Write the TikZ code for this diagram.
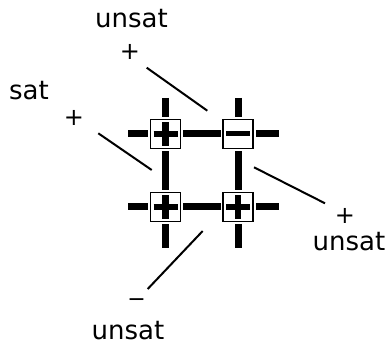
\documentclass[tikz,border=0pt]{standalone}
\usepackage{fontspec}
\setmainfont{DejaVu Sans}
\begin{document}
\begin{tikzpicture}[x=1pt,y=-1pt,
    bar/.style={line width=7pt},
    barretta/.style={line width=6.5pt},
    cella/.style={draw, line width=1.3pt, fill=white, minimum width=30pt, minimum height=29pt,
        inner sep=0pt, preaction={draw=white, fill=white, line width=5pt}},
    lbl/.style={font=\fontsize{26}{30}\selectfont, inner sep=0pt, anchor=base},
    segno/.style={font=\fontsize{24}{28}\selectfont, inner sep=0pt},
    link/.style={line width=2pt}]
        % Dimensioni
        \def\xa{165.5}  % colonna sinistra
        \def\xb{238}    % colonna destra
        \def\ya{134}    % riga in alto
        \def\yb{207}    % riga in basso
        \def\m{12}      % mezza barra dei segni

        \useasboundingbox (0,0) rectangle (388,344);

        % Estremi delle linee
        \coordinate (v1s) at (\xa,98);  \coordinate (v1e) at (\xa,248);
        \coordinate (v2s) at (\xb,98);  \coordinate (v2e) at (\xb,248);
        \coordinate (h1s) at (128,\ya); \coordinate (h1e) at (279,\ya);
        \coordinate (h2s) at (128,\yb); \coordinate (h2e) at (279,\yb);

        % Griglia
        \draw[bar] (v1s) -- (v1e);
        \draw[bar] (v2s) -- (v2e);
        \draw[bar] (h1s) -- (h1e);
        \draw[bar] (h2s) -- (h2e);

        % Celle
        \node[cella] (q11) at (\xa,\ya) {};
        \node[cella] (q12) at (\xb,\ya) {};
        \node[cella] (q21) at (\xa,\yb) {};
        \node[cella] (q22) at (\xb,\yb) {};

        % Segni nelle celle
        \foreach \q in {q11,q21,q22} {
            \draw[barretta] ([xshift=-\m pt]\q.center) -- ([xshift=\m pt]\q.center);
            \draw[barretta] ([yshift=-\m pt]\q.center) -- ([yshift=\m pt]\q.center);
        }
        \draw[line width=5pt] ([xshift=-\m pt]q12.center) -- ([xshift=\m pt]q12.center);

        % Etichette
        \node[lbl] (t1) at (131.5,28) {unsat};
        \node[segno] (s1) at (130,51.5) {+};
        \node[lbl] (t2) at (29,100) {sat};
        \node[segno] (s2) at (74,117.5) {+};
        \node[segno] (s3) at (345,216) {+};
        \node[lbl] (t3) at (349,250.5) {unsat};
        \node[segno, font=\fontsize{22}{26}\selectfont] (s4) at (136.7,303) {−};
        \node[lbl] (t4) at (128,340) {unsat};

        % Linee di collegamento
        \coordinate (a1) at (146.7,67.7);  \coordinate (a2) at (207.3,110.7);
        \coordinate (b1) at (98.3,133.3);  \coordinate (b2) at (151.7,170);
        \coordinate (c1) at (254,167.3);   \coordinate (c2) at (325,203.3);
        \coordinate (d1) at (147.7,289);   \coordinate (d2) at (202.7,231);
        \draw[link] (a1) -- (a2);
        \draw[link] (b1) -- (b2);
        \draw[link] (c1) -- (c2);
        \draw[link] (d1) -- (d2);

    \end{tikzpicture}
\end{document}
